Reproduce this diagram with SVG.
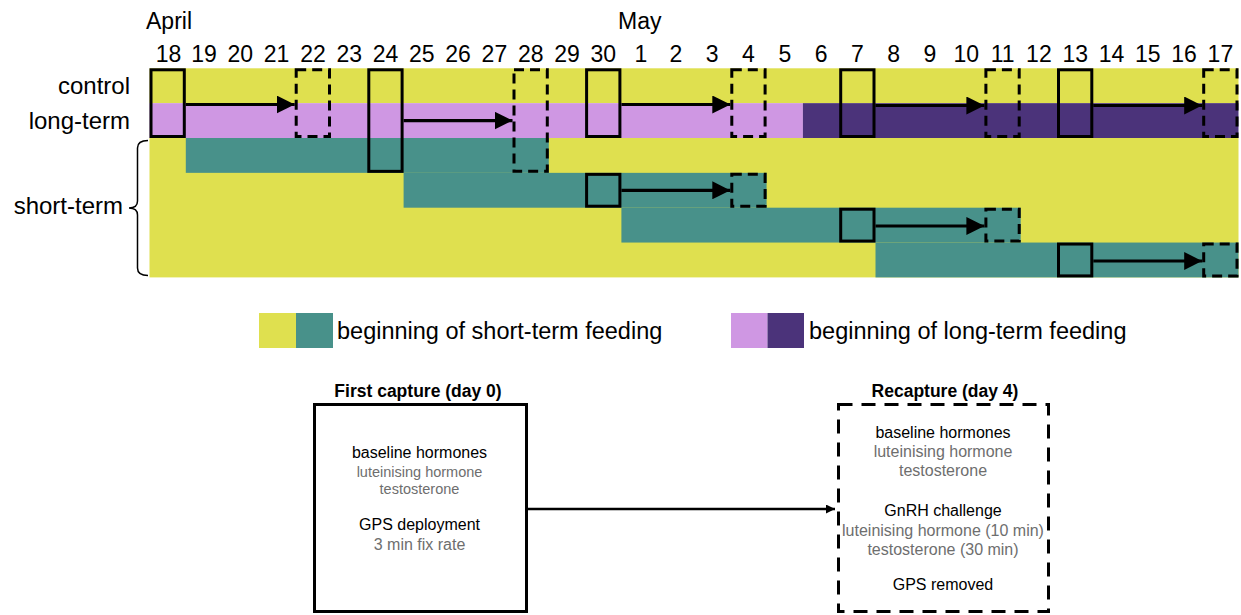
<svg xmlns="http://www.w3.org/2000/svg" width="1241" height="615" viewBox="0 0 1241 615">
<style>
text{font-family:"Liberation Sans",Arial,Helvetica,sans-serif;fill:#000}
.lab{font-size:23px}
.rl{font-size:24px;text-anchor:end}
.day{font-size:23px;text-anchor:middle}
.y{fill:#dfe04f}
.t{fill:#48918a}
.lp{fill:#cf97e3}
.dp{fill:#4b337a}
.bx{fill:none;stroke:#000;stroke-width:3}
.ds{fill:none;stroke:#000;stroke-width:3;stroke-dasharray:10 6}
.arr{stroke:#000;stroke-width:3.2;fill:none;marker-end:url(#ah)}
.ttl{font-size:17.5px;font-weight:bold;text-anchor:middle}
.blk{font-size:16px;text-anchor:middle}
.gry{font-size:16px;text-anchor:middle;fill:#6e6e6e}
.gs{font-size:14.5px;text-anchor:middle;fill:#6e6e6e}
.leg{font-size:23.5px}
</style>
<defs>
<marker id="ah" markerUnits="userSpaceOnUse" markerWidth="18" markerHeight="18" refX="18" refY="9" orient="auto"><path d="M0,0 L18,9 L0,18 z" fill="#000"/></marker>
<marker id="ahs" markerUnits="userSpaceOnUse" markerWidth="9" markerHeight="9" refX="9" refY="4.5" orient="auto"><path d="M0,0 L9,4.5 L0,9 z" fill="#000"/></marker>
</defs>

<g id="months">
<text class="lab" x="146" y="29">April</text>
<text class="lab" x="618" y="29">May</text>
</g>

<g id="days">
<text class="day" x="168.5" y="62">18</text>
<text class="day" x="204" y="62">19</text>
<text class="day" x="240.3" y="62">20</text>
<text class="day" x="276.6" y="62">21</text>
<text class="day" x="313" y="62">22</text>
<text class="day" x="349.2" y="62">23</text>
<text class="day" x="385.5" y="62">24</text>
<text class="day" x="421.8" y="62">25</text>
<text class="day" x="458.1" y="62">26</text>
<text class="day" x="494.4" y="62">27</text>
<text class="day" x="530.7" y="62">28</text>
<text class="day" x="567" y="62">29</text>
<text class="day" x="603.3" y="62">30</text>
<text class="day" x="641" y="62">1</text>
<text class="day" x="676" y="62">2</text>
<text class="day" x="712.2" y="62">3</text>
<text class="day" x="748.5" y="62">4</text>
<text class="day" x="784.8" y="62">5</text>
<text class="day" x="821.1" y="62">6</text>
<text class="day" x="857.4" y="62">7</text>
<text class="day" x="893.7" y="62">8</text>
<text class="day" x="930" y="62">9</text>
<text class="day" x="966.3" y="62">10</text>
<text class="day" x="1002.6" y="62">11</text>
<text class="day" x="1038.9" y="62">12</text>
<text class="day" x="1075.2" y="62">13</text>
<text class="day" x="1111.5" y="62">14</text>
<text class="day" x="1147.8" y="62">15</text>
<text class="day" x="1184.1" y="62">16</text>
<text class="day" x="1220.4" y="62">17</text>
</g>

<g id="row-labels">
<text class="rl" x="130" y="94">control</text>
<text class="rl" x="130" y="129">long-term</text>
<text class="rl" x="123" y="214">short-term</text>
<path d="M148,140.5 Q137.5,140.5 137.5,148 L137.5,201 Q137.5,208 129,208 Q137.5,208 137.5,215 L137.5,268 Q137.5,275.5 148,275.5" fill="none" stroke="#000" stroke-width="1.5"/>
</g>

<g id="timeline-fills">
<rect class="y" x="149.5" y="68.3" width="1089" height="34.85"/>
<rect class="lp" x="149.5" y="103.15" width="653.4" height="34.85"/>
<rect class="dp" x="802.9" y="103.15" width="435.6" height="34.85"/>
<rect class="y" x="149.5" y="138" width="1089" height="139.4"/>
<rect class="t" x="185.8" y="138" width="363" height="34.85"/>
<rect class="t" x="403.6" y="172.85" width="363" height="34.85"/>
<rect class="t" x="621.4" y="207.7" width="399.3" height="34.85"/>
<rect class="t" x="875.5" y="242.55" width="363" height="34.85"/>
</g>

<g id="capture-boxes">
<rect id="cap-18" class="bx" x="151" y="69.8" width="33.3" height="66.7"/>
<rect id="cap-24" class="bx" x="368.8" y="69.8" width="33.3" height="101.55"/>
<rect id="cap-30" class="bx" x="586.6" y="69.8" width="33.3" height="66.7"/>
<rect id="cap-7" class="bx" x="840.7" y="69.8" width="33.3" height="66.7"/>
<rect id="cap-13" class="bx" x="1058.5" y="69.8" width="33.3" height="66.7"/>
<rect id="cap-30s" class="bx" x="586.6" y="174.35" width="33.3" height="31.85"/>
<rect id="cap-7s" class="bx" x="840.7" y="209.2" width="33.3" height="31.85"/>
<rect id="cap-13s" class="bx" x="1058.5" y="244.05" width="33.3" height="31.85"/>
</g>

<g id="recapture-boxes">
<rect id="rec-22" class="ds" x="296.2" y="69.8" width="33.3" height="66.7"/>
<rect id="rec-28" class="ds" x="514" y="69.8" width="33.3" height="101.55"/>
<rect id="rec-4" class="ds" x="731.8" y="69.8" width="33.3" height="66.7"/>
<rect id="rec-11" class="ds" x="985.9" y="69.8" width="33.3" height="66.7"/>
<rect id="rec-17" class="ds" x="1203.7" y="69.8" width="33.3" height="66.7"/>
<rect id="rec-4s" class="ds" x="731.8" y="174.35" width="33.3" height="31.85"/>
<rect id="rec-11s" class="ds" x="985.9" y="209.2" width="33.3" height="31.85"/>
<rect id="rec-17s" class="ds" x="1203.7" y="244.05" width="33.3" height="31.85"/>
</g>

<g id="connectors">
<line class="arr" x1="185.8" y1="104.5" x2="294.7" y2="104.5"/>
<line class="arr" x1="403.6" y1="120.6" x2="512.5" y2="120.6"/>
<line class="arr" x1="621.4" y1="104.5" x2="730.3" y2="104.5"/>
<line class="arr" x1="875.5" y1="105.5" x2="984.4" y2="105.5"/>
<line class="arr" x1="1093.3" y1="105.5" x2="1202.2" y2="105.5"/>
<line class="arr" x1="621.4" y1="190.3" x2="730.3" y2="190.3"/>
<line class="arr" x1="875.5" y1="226" x2="984.4" y2="226"/>
<line class="arr" x1="1093.3" y1="261" x2="1202.2" y2="261"/>
<line x1="528" y1="509" x2="835" y2="509" stroke="#000" stroke-width="2.5" marker-end="url(#ahs)"/>
</g>

<g id="legend">
<rect class="y" x="259" y="313" width="37" height="35"/>
<rect class="t" x="296" y="313" width="37" height="35"/>
<text class="leg" x="337" y="339">beginning of short-term feeding</text>
<rect class="lp" x="731" y="313" width="36.5" height="35"/>
<rect class="dp" x="767.5" y="313" width="36.5" height="35"/>
<text class="leg" x="809" y="339">beginning of long-term feeding</text>
</g>

<g id="first-capture">
<text class="ttl" x="418" y="397">First capture (day 0)</text>
<rect class="bx" x="314.5" y="404.5" width="212" height="207"/>
<text class="blk" x="419.5" y="458">baseline hormones</text>
<text class="gs" x="419.5" y="477">luteinising hormone</text>
<text class="gs" x="419.5" y="494">testosterone</text>
<text class="blk" x="419.5" y="530">GPS deployment</text>
<text class="gry" x="419.5" y="550">3 min fix rate</text>
</g>

<g id="recapture">
<text class="ttl" x="945" y="397">Recapture (day 4)</text>
<rect class="bx" x="838.5" y="404.5" width="210" height="207" style="stroke-dasharray:14 9"/>
<text class="blk" x="943" y="438">baseline hormones</text>
<text class="gry" x="943" y="457">luteinising hormone</text>
<text class="gry" x="943" y="476">testosterone</text>
<text class="blk" x="943" y="516">GnRH challenge</text>
<text class="gry" x="943" y="536">luteinising hormone (10 min)</text>
<text class="gry" x="943" y="555">testosterone (30 min)</text>
<text class="blk" x="943" y="590">GPS removed</text>
</g>
</svg>
